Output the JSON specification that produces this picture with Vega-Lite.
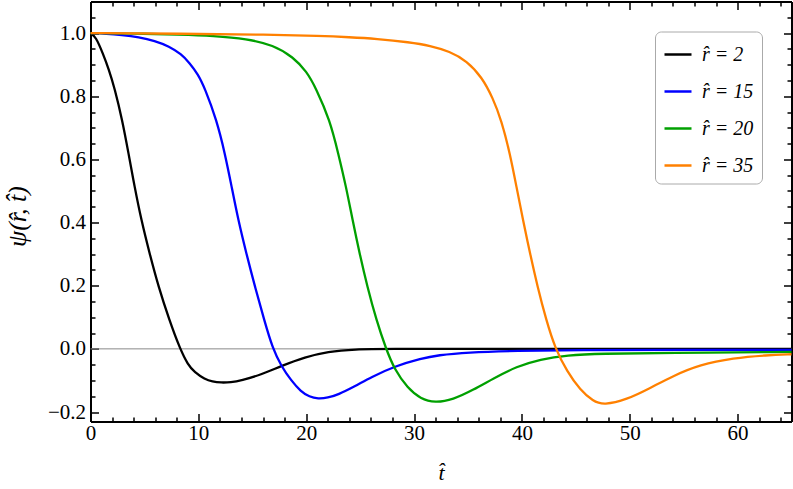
{
  "$schema": "https://vega.github.io/schema/vega-lite/v6.json",
  "width": 701,
  "height": 420,
  "autosize": "none",
  "padding": {"left": 90.5, "top": 1.5, "right": 1.5, "bottom": 67.5},
  "background": "white",
  "config": {
    "view": {"stroke": null},
    "axis": {
      "labelFont": "Liberation Serif", "labelFontSize": 21, "labelColor": "black",
      "titleFont": "Liberation Serif", "titleFontSize": 22, "titleFontStyle": "italic", "titleFontWeight": "normal", "titleColor": "black",
      "domainColor": "black", "domainWidth": 2, "tickColor": "black", "tickWidth": 1.5, "grid": false, "labelFlush": false
    }
  },
  "resolve": {"axis": {"x": "independent", "y": "independent"}},
  "layer": [
    {
      "data": {"values": [{"t": 0, "v": 0}, {"t": 65, "v": 0}]},
      "mark": {"type": "line", "color": "#888888", "strokeWidth": 1},
      "encoding": {
        "x": {"field": "t", "type": "quantitative", "scale": {"domain": [0, 65], "nice": false, "zero": false},
          "axis": {"orient": "top", "title": null, "labels": false,
            "values": [0,2,4,6,8,10,12,14,16,18,20,22,24,26,28,30,32,34,36,38,40,42,44,46,48,50,52,54,56,58,60,62,64],
            "tickSize": {"condition": {"test": "datum.value % 10 === 0", "value": -8}, "value": -4.5}}},
        "y": {"field": "v", "type": "quantitative", "scale": {"domain": [-0.23, 1.1], "nice": false, "zero": false},
          "axis": {"orient": "right", "title": null, "labels": false,
            "values": [-0.2,-0.15,-0.1,-0.05,0,0.05,0.1,0.15,0.2,0.25,0.3,0.35,0.4,0.45,0.5,0.55,0.6,0.65,0.7,0.75,0.8,0.85,0.9,0.95,1.0,1.05,1.1],
            "tickSize": {"condition": {"test": "abs(datum.value*5 - round(datum.value*5)) < 0.001", "value": -8}, "value": -4.5}}}
      }
    },
    {
      "data": {"values": [
        {"r": 2, "t": 0, "psi": 1.0}, {"r": 2, "t": 0.5, "psi": 0.988}, {"r": 2, "t": 1.15, "psi": 0.935}, {"r": 2, "t": 1.7, "psi": 0.885},
        {"r": 2, "t": 2.23, "psi": 0.826}, {"r": 2, "t": 2.95, "psi": 0.724}, {"r": 2, "t": 3.53, "psi": 0.618}, {"r": 2, "t": 4.09, "psi": 0.513},
        {"r": 2, "t": 4.71, "psi": 0.408}, {"r": 2, "t": 5.48, "psi": 0.302}, {"r": 2, "t": 6.3, "psi": 0.197}, {"r": 2, "t": 7.3, "psi": 0.092},
        {"r": 2, "t": 8.3, "psi": 0.0}, {"r": 2, "t": 9.03, "psi": -0.05}, {"r": 2, "t": 9.65, "psi": -0.074}, {"r": 2, "t": 10.6, "psi": -0.096},
        {"r": 2, "t": 11.3, "psi": -0.104}, {"r": 2, "t": 12.1, "psi": -0.107}, {"r": 2, "t": 13.0, "psi": -0.106}, {"r": 2, "t": 13.98, "psi": -0.1},
        {"r": 2, "t": 15.8, "psi": -0.082}, {"r": 2, "t": 17.7, "psi": -0.054}, {"r": 2, "t": 19.9, "psi": -0.026}, {"r": 2, "t": 22.0, "psi": -0.0085},
        {"r": 2, "t": 24.5, "psi": -0.001}, {"r": 2, "t": 27.6, "psi": 0.0}, {"r": 2, "t": 35, "psi": 0.0}, {"r": 2, "t": 45, "psi": 0.0},
        {"r": 2, "t": 55, "psi": 0.0}, {"r": 2, "t": 65, "psi": 0.0},

        {"r": 15, "t": 0, "psi": 1.0}, {"r": 15, "t": 1.5, "psi": 0.998}, {"r": 15, "t": 2.85, "psi": 0.994}, {"r": 15, "t": 4.5, "psi": 0.987},
        {"r": 15, "t": 5.95, "psi": 0.976}, {"r": 15, "t": 7.3, "psi": 0.958}, {"r": 15, "t": 8.4, "psi": 0.934}, {"r": 15, "t": 9.2, "psi": 0.905},
        {"r": 15, "t": 9.96, "psi": 0.87}, {"r": 15, "t": 10.6, "psi": 0.826}, {"r": 15, "t": 11.7, "psi": 0.724}, {"r": 15, "t": 12.47, "psi": 0.618},
        {"r": 15, "t": 13.09, "psi": 0.513}, {"r": 15, "t": 13.7, "psi": 0.408}, {"r": 15, "t": 14.45, "psi": 0.302}, {"r": 15, "t": 15.25, "psi": 0.197},
        {"r": 15, "t": 16.1, "psi": 0.092}, {"r": 15, "t": 16.9, "psi": 0.0}, {"r": 15, "t": 17.7, "psi": -0.055}, {"r": 15, "t": 18.6, "psi": -0.1},
        {"r": 15, "t": 19.5, "psi": -0.135}, {"r": 15, "t": 20.3, "psi": -0.152}, {"r": 15, "t": 21.1, "psi": -0.158}, {"r": 15, "t": 22.0, "psi": -0.155},
        {"r": 15, "t": 22.95, "psi": -0.145}, {"r": 15, "t": 24.5, "psi": -0.119}, {"r": 15, "t": 26.0, "psi": -0.09}, {"r": 15, "t": 28.2, "psi": -0.055},
        {"r": 15, "t": 30.7, "psi": -0.03}, {"r": 15, "t": 32.2, "psi": -0.02}, {"r": 15, "t": 34.9, "psi": -0.011}, {"r": 15, "t": 39.5, "psi": -0.006},
        {"r": 15, "t": 45, "psi": -0.004}, {"r": 15, "t": 55, "psi": -0.003}, {"r": 15, "t": 65, "psi": -0.003},

        {"r": 20, "t": 0, "psi": 1.0}, {"r": 20, "t": 4, "psi": 0.999}, {"r": 20, "t": 8.3, "psi": 0.995}, {"r": 20, "t": 11.4, "psi": 0.991},
        {"r": 20, "t": 14.5, "psi": 0.982}, {"r": 20, "t": 16.95, "psi": 0.962}, {"r": 20, "t": 18.8, "psi": 0.924}, {"r": 20, "t": 20.05, "psi": 0.878},
        {"r": 20, "t": 20.9, "psi": 0.826}, {"r": 20, "t": 22.2, "psi": 0.724}, {"r": 20, "t": 22.98, "psi": 0.618}, {"r": 20, "t": 23.7, "psi": 0.513},
        {"r": 20, "t": 24.3, "psi": 0.408}, {"r": 20, "t": 24.95, "psi": 0.302}, {"r": 20, "t": 25.67, "psi": 0.197}, {"r": 20, "t": 26.5, "psi": 0.092},
        {"r": 20, "t": 27.4, "psi": 0.0}, {"r": 20, "t": 28.2, "psi": -0.066}, {"r": 20, "t": 29.4, "psi": -0.124}, {"r": 20, "t": 30.6, "psi": -0.158},
        {"r": 20, "t": 31.95, "psi": -0.171}, {"r": 20, "t": 33.6, "psi": -0.161}, {"r": 20, "t": 35.5, "psi": -0.13}, {"r": 20, "t": 37.4, "psi": -0.093},
        {"r": 20, "t": 39.5, "psi": -0.056}, {"r": 20, "t": 41.7, "psi": -0.033}, {"r": 20, "t": 44.2, "psi": -0.02}, {"r": 20, "t": 47.3, "psi": -0.015},
        {"r": 20, "t": 53.4, "psi": -0.0126}, {"r": 20, "t": 65, "psi": -0.0095},

        {"r": 35, "t": 0, "psi": 1.0}, {"r": 35, "t": 8.3, "psi": 0.998}, {"r": 35, "t": 16.6, "psi": 0.995}, {"r": 35, "t": 21.3, "psi": 0.991},
        {"r": 35, "t": 24, "psi": 0.987}, {"r": 35, "t": 26.5, "psi": 0.982}, {"r": 35, "t": 29.6, "psi": 0.971}, {"r": 35, "t": 31.5, "psi": 0.96},
        {"r": 35, "t": 33.3, "psi": 0.942}, {"r": 35, "t": 34.9, "psi": 0.912}, {"r": 35, "t": 36.3, "psi": 0.86}, {"r": 35, "t": 37.3, "psi": 0.795},
        {"r": 35, "t": 38.1, "psi": 0.724}, {"r": 35, "t": 38.9, "psi": 0.618}, {"r": 35, "t": 39.5, "psi": 0.513}, {"r": 35, "t": 40.1, "psi": 0.408},
        {"r": 35, "t": 40.76, "psi": 0.302}, {"r": 35, "t": 41.45, "psi": 0.197}, {"r": 35, "t": 42.25, "psi": 0.092}, {"r": 35, "t": 43.1, "psi": 0.0},
        {"r": 35, "t": 44.2, "psi": -0.072}, {"r": 35, "t": 45.4, "psi": -0.13}, {"r": 35, "t": 46.6, "psi": -0.166}, {"r": 35, "t": 47.6, "psi": -0.178},
        {"r": 35, "t": 49.7, "psi": -0.161}, {"r": 35, "t": 51.9, "psi": -0.124}, {"r": 35, "t": 54.05, "psi": -0.085}, {"r": 35, "t": 56.5, "psi": -0.05},
        {"r": 35, "t": 59.6, "psi": -0.029}, {"r": 35, "t": 62.7, "psi": -0.02}, {"r": 35, "t": 65, "psi": -0.017}
      ]},
      "mark": {"type": "line", "strokeWidth": 2.3, "interpolate": "basis"},
      "encoding": {
        "x": {"field": "t", "type": "quantitative", "scale": {"domain": [0, 65], "nice": false, "zero": false},
          "axis": {"orient": "bottom", "title": "t\u0302", "format": "d",
            "values": [0,2,4,6,8,10,12,14,16,18,20,22,24,26,28,30,32,34,36,38,40,42,44,46,48,50,52,54,56,58,60,62,64],
            "labelExpr": "datum.value % 10 === 0 ? datum.label : ''",
            "tickSize": {"condition": {"test": "datum.value % 10 === 0", "value": -8}, "value": -4.5},
            "labelPadding": 9,
            "titleX": 350.5, "titleY": 58, "titleBaseline": "alphabetic", "titleAlign": "center"}},
        "y": {"field": "psi", "type": "quantitative", "scale": {"domain": [-0.23, 1.1], "nice": false, "zero": false},
          "axis": {"orient": "left", "title": "\u03c8(r\u0302, t\u0302)", "format": ".1f",
            "values": [-0.2,-0.15,-0.1,-0.05,0,0.05,0.1,0.15,0.2,0.25,0.3,0.35,0.4,0.45,0.5,0.55,0.6,0.65,0.7,0.75,0.8,0.85,0.9,0.95,1.0,1.05,1.1],
            "labelExpr": "abs(datum.value*5 - round(datum.value*5)) < 0.001 ? datum.label : ''",
            "tickSize": {"condition": {"test": "abs(datum.value*5 - round(datum.value*5)) < 0.001", "value": -8}, "value": -4.5},
            "labelPadding": 13,
            "titleFontSize": 26,
            "titleX": -65, "titleY": 214.5, "titleAngle": -90, "titleBaseline": "alphabetic", "titleAlign": "center"}},
        "color": {"field": "r", "type": "nominal",
          "scale": {"domain": [2, 15, 20, 35], "range": ["#000000", "#0000ff", "#00a000", "#ff8000"]},
          "legend": {"orient": "none", "legendX": 564.5, "legendY": 30, "title": null,
            "symbolType": "stroke", "symbolSize": 729, "symbolStrokeWidth": 2.5,
            "labelFont": "Liberation Serif", "labelFontSize": 20, "labelFontStyle": "italic", "labelColor": "black",
            "labelOffset": 9, "rowPadding": 12, "padding": 8,
            "strokeColor": "#aaaaaa", "cornerRadius": 6, "fillColor": "white",
            "labelExpr": "'r\u0302 = ' + datum.label"}}
      }
    }
  ]
}
